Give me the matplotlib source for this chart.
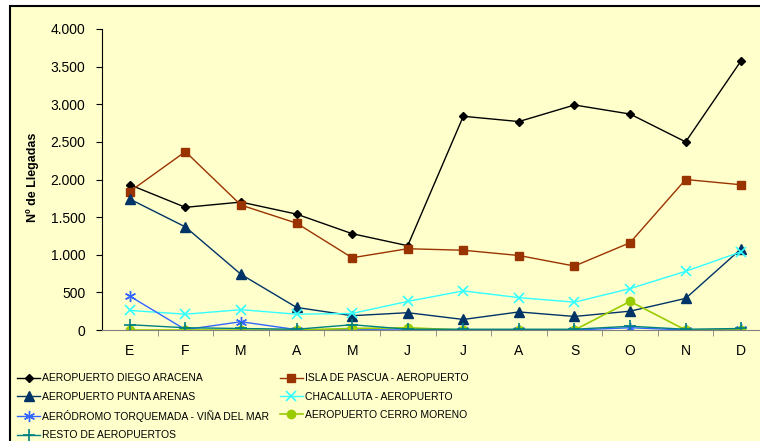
import matplotlib.pyplot as plt
from matplotlib.patches import Rectangle
from matplotlib.ticker import FuncFormatter
import numpy as np

plt.rcParams['font.family'] = ['Liberation Sans', 'DejaVu Sans']

meses = ['E', 'F', 'M', 'A', 'M', 'J', 'J', 'A', 'S', 'O', 'N', 'D']

diego_aracena = [1930, 1630, 1700, 1540, 1280, 1120, 2840, 2770, 2990, 2870, 2500, 3580]
isla_pascua = [1840, 2370, 1660, 1420, 960, 1080, 1060, 990, 850, 1160, 2000, 1930]
punta_arenas = [1740, 1370, 740, 300, 190, 230, 140, 240, 180, 250, 420, 1080]
chacalluta = [260, 210, 270, 210, 220, 380, 520, 430, 370, 550, 780, 1040]
torquemada = [450, 5, 110, 5, 5, 0, 0, 0, 0, 30, 0, 10]
cerro_moreno = [0, 0, 0, 0, 20, 30, 0, 0, 0, 380, 0, 0]
resto = [70, 30, 20, 10, 70, 10, 10, 10, 10, 50, 10, 20]

fig = plt.figure(figsize=(7.6, 4.41), dpi=100)
fig.patch.set_facecolor('white')

# fondo amarillo con marco
fig.patches.append(Rectangle((10/760, -0.1), 1.2, 1 - 6/441 + 0.1, transform=fig.transFigure,
                             facecolor='#FFFFCC', edgecolor='black', linewidth=1.5, zorder=-10))

ax = fig.add_axes([102/760, 1 - 330/441, 667/760, 301/441])
ax.set_facecolor('none')

x = np.arange(len(meses))

# series
l1, = ax.plot(x, diego_aracena, color='black', marker='D', markersize=4.5, lw=1, label='AEROPUERTO DIEGO ARACENA')
l2, = ax.plot(x, isla_pascua, color='#993300', marker='s', markersize=6, lw=1, label='ISLA DE PASCUA - AEROPUERTO')
l3, = ax.plot(x, punta_arenas, color='#003366', marker='^', markersize=7, lw=1, label='AEROPUERTO PUNTA ARENAS')
l4, = ax.plot(x, chacalluta, color='#33FFFF', marker='x', markersize=7, mew=1.2, lw=1, label='CHACALLUTA - AEROPUERTO')
l5, = ax.plot(x, torquemada, color='#3366FF', marker=(6, 2, 0), markersize=8, mew=1, lw=1, label='AERÓDROMO TORQUEMADA - VIÑA DEL MAR')
l6, = ax.plot(x, cerro_moreno, color='#99CC00', marker='o', markersize=6, lw=1.2, label='AEROPUERTO CERRO MORENO')
l7, = ax.plot(x, resto, color='#008080', marker='+', markersize=9, mew=1.2, lw=1, label='RESTO DE AEROPUERTOS')

ax.set_xlim(-0.5, 11.5)
ax.set_ylim(0, 4000)
ax.set_yticks(np.arange(0, 4001, 500))
ax.yaxis.set_major_formatter(FuncFormatter(lambda v, p: f'{int(v):,}'.replace(',', '.')))

ax.set_xticks(x)
ax.set_xticklabels(meses)
ax.set_xticks(np.arange(0.5, 11, 1), minor=True)
ax.tick_params(axis='x', which='major', length=0, pad=10, labelsize=10)
ax.tick_params(axis='x', which='minor', length=4, color='#808080')
ax.tick_params(axis='y', length=4, pad=8, labelsize=10)

ax.spines['top'].set_visible(False)
ax.spines['right'].set_visible(False)
ax.spines['bottom'].set_color('#808080')
ax.spines['left'].set_color('black')

fig.text(33/760, 1 - 177/441, 'Nº de Llegadas', rotation=90, fontsize=9, fontweight='bold',
         ha='center', va='center')

handles = [l1, l3, l5, l7, l2, l4, l6]
fig.legend(handles, [h.get_label() for h in handles], ncol=2, loc='upper left',
           bbox_to_anchor=(8/760, 1 - 364/441), frameon=False,
           handlelength=2.2, handletextpad=0.2, columnspacing=1.0, labelspacing=0.8,
           prop={'size': 7.5})

fig.savefig('out.png', dpi=100)
